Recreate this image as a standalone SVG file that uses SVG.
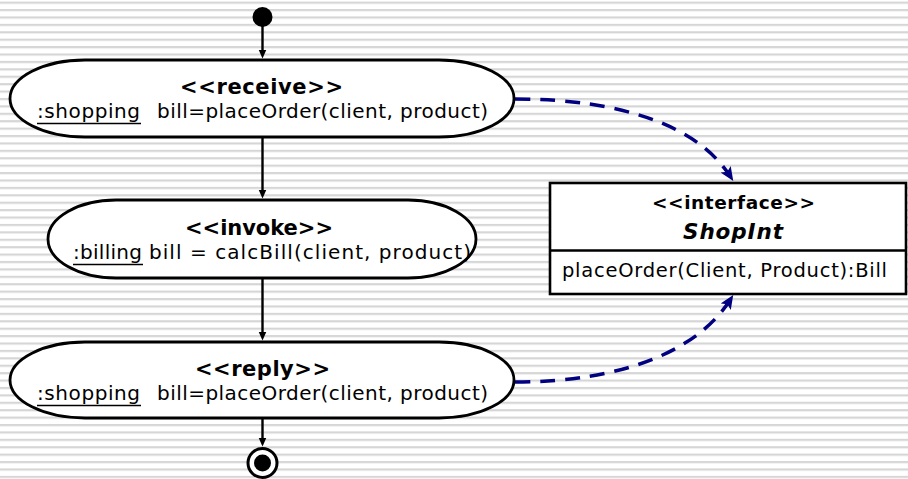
<svg xmlns="http://www.w3.org/2000/svg" width="908" height="479" viewBox="0 0 908 479">
  <defs>
    <!-- ruled-paper backdrop -->
    <pattern id="rules" patternUnits="userSpaceOnUse" x="0" y="1.6" width="908" height="7.41">
      <rect x="0" y="0" width="908" height="2.2" fill="#d6d6d6"/>
    </pattern>
    <marker id="flowHead" markerUnits="userSpaceOnUse" markerWidth="10" markerHeight="9" refX="1" refY="4" orient="auto">
      <path d="M0,0 L9,4 L0,8 z" fill="#000"/>
    </marker>
    <marker id="depHead" markerUnits="userSpaceOnUse" markerWidth="16" markerHeight="13" refX="8" refY="6" orient="auto">
      <path d="M0,0 L14,6 L0,12 L3,6 z" fill="#000080"/>
    </marker>
    <style>
      .node { fill: #fff; stroke: #000; stroke-width: 2.8; }
      .txt { font-family: "DejaVu Sans", Verdana, sans-serif; font-size: 20px; fill: #000; }
      .stereo { font-weight: bold; font-size: 21px; }
      .flow { fill: none; stroke: #000; stroke-width: 2.4; marker-end: url(#flowHead); }
      .dep { fill: none; stroke: #000080; stroke-width: 3.5; stroke-dasharray: 15 10; marker-end: url(#depHead); }
      .ul { stroke: #000; stroke-width: 1.5; }
    </style>
  </defs>

  <rect x="0" y="0" width="908" height="479" fill="#fff"/>
  <rect x="0" y="0" width="908" height="479" fill="url(#rules)"/>

  <g id="connectors">
    <path class="flow" d="M262.5,26 V50.5"/>
    <path class="flow" d="M262.5,137 V190.5"/>
    <path class="flow" d="M262.5,278 V332.5"/>
    <path class="flow" d="M262.5,418 V438.5"/>
    <path class="dep" d="M515,99 C620,99 697,125 730,176"/>
    <path class="dep" d="M515,382 C620,382 697,352 730,300"/>
  </g>

  <g id="start">
    <circle cx="262.5" cy="17" r="10" fill="#000"/>
  </g>

  <g id="receive">
    <rect class="node" x="10" y="60" width="504" height="77" rx="75" ry="38.5"/>
    <text class="txt stereo" x="180" y="94" textLength="163">&lt;&lt;receive&gt;&gt;</text>
    <text class="txt" x="37" y="118" textLength="103">:shopping</text>
    <line class="ul" x1="37" y1="123.5" x2="141" y2="123.5"/>
    <text class="txt" x="157" y="118" textLength="331">bill=placeOrder(client, product)</text>
  </g>

  <g id="invoke">
    <rect class="node" x="48" y="200" width="428" height="78" rx="68" ry="39"/>
    <text class="txt stereo" x="185" y="235" textLength="148">&lt;&lt;invoke&gt;&gt;</text>
    <text class="txt" x="73" y="259" textLength="69">:billing</text>
    <line class="ul" x1="73" y1="264.5" x2="143" y2="264.5"/>
    <text class="txt" x="149" y="259" textLength="322">bill = calcBill(client, product)</text>
  </g>

  <g id="reply">
    <rect class="node" x="10" y="342" width="504" height="76" rx="75" ry="38"/>
    <text class="txt stereo" x="195" y="376" textLength="135">&lt;&lt;reply&gt;&gt;</text>
    <text class="txt" x="37" y="400" textLength="103">:shopping</text>
    <line class="ul" x1="37" y1="405.5" x2="141" y2="405.5"/>
    <text class="txt" x="157" y="400" textLength="331">bill=placeOrder(client, product)</text>
  </g>

  <g id="end">
    <circle cx="262.5" cy="463" r="14.5" fill="#fff" stroke="#000" stroke-width="3"/>
    <circle cx="262.5" cy="463" r="8.5" fill="#000"/>
  </g>

  <g id="ShopInt">
    <rect x="550" y="183" width="356" height="111" fill="#fff" stroke="#000" stroke-width="2.6"/>
    <line x1="550" y1="250.5" x2="906" y2="250.5" stroke="#000" stroke-width="2.6"/>
    <text class="txt stereo" x="652" y="209" textLength="163" style="font-size:18.5px">&lt;&lt;interface&gt;&gt;</text>
    <text class="txt stereo" x="683" y="239" font-style="italic" textLength="100" style="font-size:21.5px">ShopInt</text>
    <text class="txt" x="562" y="277" textLength="325" style="font-size:19.5px">placeOrder(Client, Product):Bill</text>
  </g>
</svg>
